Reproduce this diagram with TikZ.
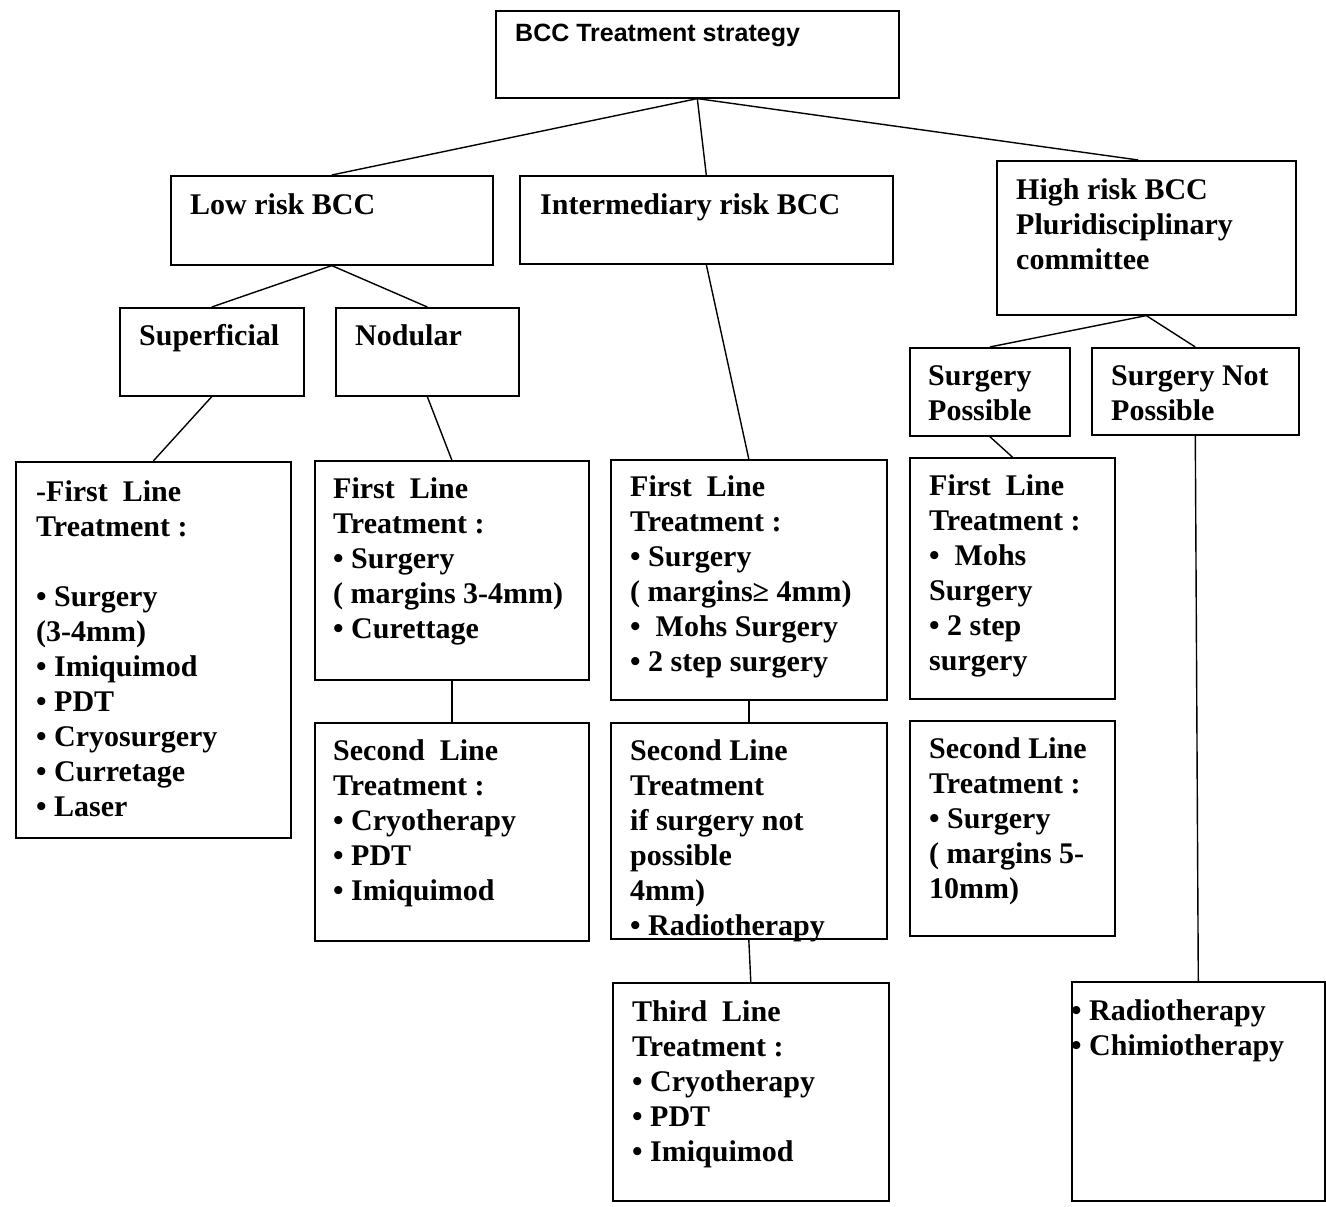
\documentclass[tikz,border=0pt]{standalone}
\usepackage{fontspec}
\setmainfont{Liberation Serif}
\newfontfamily\headfont{Liberation Sans}
\usetikzlibrary{positioning}

\begin{document}
\begin{tikzpicture}[
x=1pt,y=-1pt,
  bnode/.style={draw,line width=1.6pt,anchor=north west,inner sep=0pt,fill=white},
  tnode/.style={anchor=north west,align=left,inner sep=0pt,font=\bfseries\fontsize{30}{35}\selectfont},
  link/.style={line width=1.4pt}
]
\useasboundingbox (0,0) rectangle (1326,1207);
% top levels
\node[bnode,minimum width=403pt,minimum height=87pt] (root) at (495,10) {};
\node[tnode,font=\headfont\bfseries\fontsize{25}{30}\selectfont,below right=14pt and 20pt of root.north west] (roott) {BCC Treatment strategy};
\node[bnode,minimum width=322pt,minimum height=89pt] (low) at (170,175) {};
\node[tnode,below right=18pt and 20pt of low.north west] (lowt) {Low risk BCC};
\node[bnode,minimum width=373pt,minimum height=88pt] (inter) at (519,175) {};
\node[tnode,below right=18pt and 21pt of inter.north west] (intert) {Intermediary risk BCC};
\node[bnode,minimum width=299pt,minimum height=154pt] (high) at (996,160) {};
\node[tnode,below right=18pt and 20pt of high.north west] (hight) {High risk BCC\\Pluridisciplinary\\committee};
% second level
\node[bnode,minimum width=184pt,minimum height=88pt] (sup) at (119,307) {};
\node[tnode,below right=17pt and 20pt of sup.north west] (supt) {Superficial};
\node[bnode,minimum width=183pt,minimum height=88pt] (nod) at (335,307) {};
\node[tnode,below right=17pt and 20pt of nod.north west] (nodt) {Nodular};
\node[bnode,minimum width=160pt,minimum height=88pt] (sp) at (909,347) {};
\node[tnode,below right=18pt and 19pt of sp.north west] (spt) {Surgery\\Possible};
\node[bnode,minimum width=207pt,minimum height=87pt] (snp) at (1091,347) {};
\node[tnode,below right=18pt and 20pt of snp.north west] (snpt) {Surgery Not\\Possible};
% treatment boxes
\node[bnode,minimum width=275pt,minimum height=376pt] (lowf) at (15,461) {};
\node[tnode,below right=19pt and 21pt of lowf.north west] (lowft) {-First\ \ Line\\Treatment :\\[35pt]
  • Surgery\\(3-4mm)\\• Imiquimod\\• PDT\\• Cryosurgery\\• Curretage\\• Laser};
\node[bnode,minimum width=274pt,minimum height=219pt] (nodf) at (314,460) {};
\node[tnode,below right=17pt and 19pt of nodf.north west] (nodft) {First\ \ Line\\Treatment :\\• Surgery\\( margins 3-4mm)\\• Curettage};
\node[bnode,minimum width=274pt,minimum height=218pt] (nods) at (314,722) {};
\node[tnode,below right=17pt and 19pt of nods.north west] (nodst) {Second\ \ Line\\Treatment :\\• Cryotherapy\\• PDT\\• Imiquimod};
\node[bnode,minimum width=276pt,minimum height=240pt] (intf) at (610,459) {};
\node[tnode,below right=16pt and 20pt of intf.north west] (intft) {First\ \ Line\\Treatment :\\• Surgery\\( margins≥ 4mm)\\•\ \ Mohs Surgery\\• 2 step surgery};
\node[bnode,minimum width=276pt,minimum height=216pt] (ints) at (610,722) {};
\node[tnode,below right=17pt and 20pt of ints.north west] (intst) {Second Line\\Treatment\\if surgery not\\possible\\4mm)\\• Radiotherapy};
\node[bnode,minimum width=276pt,minimum height=218pt] (intt) at (612,982) {};
\node[tnode,below right=18pt and 20pt of intt.north west] (inttt) {Third\ \ Line\\Treatment :\\• Cryotherapy\\• PDT\\• Imiquimod};
\node[bnode,minimum width=205pt,minimum height=241pt] (spf) at (909,457) {};
\node[tnode,below right=17pt and 20pt of spf.north west] (spft) {First\ \ Line\\Treatment :\\•\ \ Mohs\\Surgery\\• 2 step\\surgery};
\node[bnode,minimum width=205pt,minimum height=215pt] (sps) at (909,720) {};
\node[tnode,below right=17pt and 20pt of sps.north west] (spst) {Second Line\\Treatment :\\• Surgery\\( margins 5-\\10mm)};
\node[bnode,minimum width=253pt,minimum height=219pt] (rad) at (1071,981) {};
\node[tnode,below right=18pt and 0pt of rad.north west] (radt) {• Radiotherapy\\• Chimiotherapy};
% connectors
\draw[link] (root.south) -- (low.north);
\draw[link] (root.south) -- (inter.north);
\draw[link] (root.south) -- ([xshift=-8pt]high.north);
\draw[link] (low.south) -- (sup.north);
\draw[link] (low.south) -- (nod.north);
\draw[link] (sup.south) -- (lowf.north);
\draw[link] (nod.south) -- (nodf.north);
\draw[link] (nodf.south) -- (nods.north);
\draw[link] (inter.south) -- (intf.north);
\draw[link] (intf.south) -- (ints.north);
\draw[link] (ints.south) -- (intt.north);
\draw[link] (high.south) -- (sp.north);
\draw[link] (high.south) -- (snp.north);
\draw[link] (sp.south) -- (spf.north);
\draw[link] (snp.south) -- (rad.north);
\end{tikzpicture}
\end{document}
